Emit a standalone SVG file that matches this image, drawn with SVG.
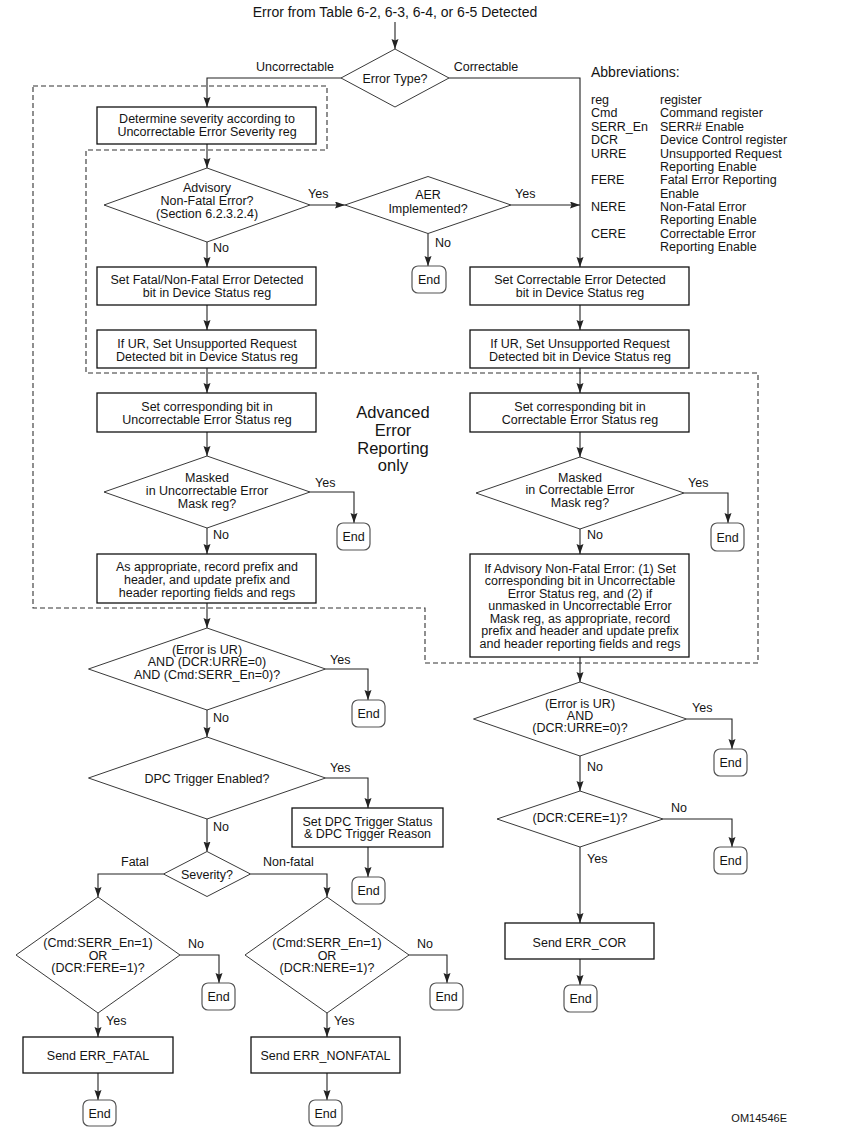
<svg xmlns="http://www.w3.org/2000/svg" width="856" height="1147" viewBox="0 0 856 1147">
<style>
text{font-family:"Liberation Sans",Arial,sans-serif;font-size:12.5px;fill:#141414}
.c{text-anchor:middle}
.box{fill:#fff;stroke:#111;stroke-width:1.3}
.dia{fill:#fff;stroke:#222;stroke-width:0.9}
.end{fill:#fff;stroke:#555;stroke-width:1.2}
.conn{fill:none;stroke:#222;stroke-width:1.1;marker-end:url(#arr)}
.line{fill:none;stroke:#222;stroke-width:1.1}
.dash{fill:none;stroke:#333;stroke-width:1.1;stroke-dasharray:5 3}
</style>
<defs>
<marker id="arr" markerUnits="userSpaceOnUse" markerWidth="10" markerHeight="8" refX="10" refY="3.5" orient="auto">
<path d="M0,0 L10,3.5 L0,7 L1.5,3.5 z" fill="#222"/>
</marker>
</defs>
<rect width="856" height="1147" fill="#fff"/>

<polygon id="aer-region" class="dash" points="33,86 327,86 327,150 86,150 86,373 758,373 758,663 425,663 425,608 33,608"/>

<g id="connectors">
<path class="conn" d="M395,22 V49"/>
<path class="conn" d="M341,78 H207 V107"/>
<path class="conn" d="M449,78 H580 V267"/>
<path class="conn" d="M207,144 V168"/>
<path class="conn" d="M310,205 H345"/>
<path class="conn" d="M511,205 H580"/>
<path class="conn" d="M428,233.5 V266"/>
<path class="conn" d="M207,242 V267"/>
<path class="conn" d="M207,305 V330"/>
<path class="conn" d="M207,368 V393"/>
<path class="conn" d="M580,305 V330"/>
<path class="conn" d="M580,368 V393"/>
<path class="conn" d="M580,432 V457"/>
<path class="conn" d="M207,432 V456"/>
<path class="conn" d="M310,492 H354 V523"/>
<path class="conn" d="M207,528 V554"/>
<path class="conn" d="M684,493 H728 V523"/>
<path class="conn" d="M580,529 V554"/>
<path class="conn" d="M207,603 V628"/>
<path class="conn" d="M325.5,669 H368 V700"/>
<path class="conn" d="M207,710 V737"/>
<path class="conn" d="M325.5,778 H368 V808"/>
<path class="conn" d="M368,847 V877"/>
<path class="conn" d="M207,819 V851.5"/>
<path class="conn" d="M163.5,874 H98 V897"/>
<path class="conn" d="M250.5,874 H327 V897"/>
<path class="conn" d="M180,955 H219 V983"/>
<path class="conn" d="M98,1013 V1037"/>
<path class="conn" d="M98,1073 V1100"/>
<path class="conn" d="M409,955 H447 V983"/>
<path class="conn" d="M327,1013 V1037"/>
<path class="conn" d="M327,1073 V1100"/>
<path class="conn" d="M580,657 V682"/>
<path class="conn" d="M686.5,719 H732 V749"/>
<path class="conn" d="M580,756 V791"/>
<path class="conn" d="M663,819 H732 V847"/>
<path class="conn" d="M580,847 V923"/>
<path class="conn" d="M580,959 V985"/>
</g>

<g id="labels">
<text class="c" x="295" y="71">Uncorrectable</text>
<text class="c" x="486" y="71">Correctable</text>
<text x="308" y="198">Yes</text>
<text x="515" y="198">Yes</text>
<text x="435" y="247">No</text>
<text x="213" y="252">No</text>
<text x="315" y="487">Yes</text>
<text x="213" y="539">No</text>
<text x="688" y="487">Yes</text>
<text x="587" y="539">No</text>
<text x="330" y="664">Yes</text>
<text x="213" y="722">No</text>
<text x="330" y="772">Yes</text>
<text x="213" y="831">No</text>
<text x="121" y="866">Fatal</text>
<text x="263" y="866">Non-fatal</text>
<text x="188" y="948">No</text>
<text x="106" y="1025">Yes</text>
<text x="417" y="948">No</text>
<text x="334" y="1025">Yes</text>
<text x="692" y="712">Yes</text>
<text x="587" y="771">No</text>
<text x="671" y="812">No</text>
<text x="587" y="863">Yes</text>
</g>

<g id="title"><text class="c" x="395" y="17" style="font-size:14px">Error from Table 6-2, 6-3, 6-4, or 6-5 Detected</text></g>

<g id="error-type">
<polygon class="dia" points="395,49 449,78 395,107 341,78"/>
<text class="c" x="395" y="82.5">Error Type?</text>
</g>

<g id="determine-severity">
<rect class="box" x="97" y="107" width="219" height="37"/>
<text class="c" x="207" y="122.5">Determine severity according to</text>
<text class="c" x="207" y="135.5">Uncorrectable Error Severity reg</text>
</g>

<g id="advisory">
<polygon class="dia" points="207,168 310,205 207,242 104,205"/>
<text class="c" x="207" y="191.5">Advisory</text>
<text class="c" x="207" y="204.5">Non-Fatal Error?</text>
<text class="c" x="207" y="217.5">(Section 6.2.3.2.4)</text>
</g>

<g id="aer-implemented">
<polygon class="dia" points="428,176.5 511,205 428,233.5 345,205"/>
<text class="c" x="428" y="198.5">AER</text>
<text class="c" x="428" y="212.5">Implemented?</text>
</g>

<g id="end-aer">
<rect class="end" x="412" y="266" width="34" height="27" rx="6"/>
<text class="c" x="429" y="284">End</text>
</g>

<g id="set-fatal-detected">
<rect class="box" x="97" y="267" width="219" height="38"/>
<text class="c" x="207" y="283.5">Set Fatal/Non-Fatal Error Detected</text>
<text class="c" x="207" y="297">bit in Device Status reg</text>
</g>

<g id="ur-left">
<rect class="box" x="97" y="330" width="219" height="38"/>
<text class="c" x="207" y="347.5">If UR, Set Unsupported Request</text>
<text class="c" x="207" y="361">Detected bit in Device Status reg</text>
</g>

<g id="set-cor-detected">
<rect class="box" x="470" y="267" width="219" height="38"/>
<text class="c" x="580" y="283.5">Set Correctable Error Detected</text>
<text class="c" x="580" y="297">bit in Device Status reg</text>
</g>

<g id="ur-right">
<rect class="box" x="470" y="330" width="219" height="38"/>
<text class="c" x="580" y="347.5">If UR, Set Unsupported Request</text>
<text class="c" x="580" y="361">Detected bit in Device Status reg</text>
</g>

<g id="uncor-status">
<rect class="box" x="97" y="393" width="219" height="39"/>
<text class="c" x="207" y="410.5">Set corresponding bit in</text>
<text class="c" x="207" y="423.5">Uncorrectable Error Status reg</text>
</g>

<g id="cor-status">
<rect class="box" x="470" y="393" width="219" height="39"/>
<text class="c" x="580" y="410.5">Set corresponding bit in</text>
<text class="c" x="580" y="423.5">Correctable Error Status reg</text>
</g>

<g id="aer-note">
<text class="c" x="393" y="418" style="font-size:16.5px">Advanced</text>
<text class="c" x="393" y="436" style="font-size:16.5px">Error</text>
<text class="c" x="393" y="454" style="font-size:16.5px">Reporting</text>
<text class="c" x="393" y="471" style="font-size:16.5px">only</text>
</g>

<g id="mask-uncor">
<polygon class="dia" points="207,456 310,492 207,528 104,492"/>
<text class="c" x="207" y="481.5">Masked</text>
<text class="c" x="207" y="494.5">in Uncorrectable Error</text>
<text class="c" x="207" y="507.5">Mask reg?</text>
</g>

<g id="end-mask-uncor">
<rect class="end" x="337" y="523" width="33" height="27" rx="6"/>
<text class="c" x="353.5" y="541">End</text>
</g>

<g id="mask-cor">
<polygon class="dia" points="580,457 684,493 580,529 476,493"/>
<text class="c" x="580" y="481.5">Masked</text>
<text class="c" x="580" y="494">in Correctable Error</text>
<text class="c" x="580" y="506.5">Mask reg?</text>
</g>

<g id="end-mask-cor">
<rect class="end" x="711" y="523" width="33" height="28" rx="6"/>
<text class="c" x="727.5" y="541.5">End</text>
</g>

<g id="record-header">
<rect class="box" x="97" y="554" width="219" height="49"/>
<text class="c" x="207" y="570.5">As appropriate, record prefix and</text>
<text class="c" x="207" y="583.5">header, and update prefix and</text>
<text class="c" x="207" y="596.5">header reporting fields and regs</text>
</g>

<g id="advisory-cor">
<rect class="box" x="470" y="554" width="219" height="103"/>
<text class="c" x="580" y="572.5">If Advisory Non-Fatal Error: (1) Set</text>
<text class="c" x="580" y="585">corresponding bit in Uncorrectable</text>
<text class="c" x="580" y="597.5">Error Status reg, and (2) if</text>
<text class="c" x="580" y="610">unmasked in Uncorrectable Error</text>
<text class="c" x="580" y="622.5">Mask reg, as appropriate, record</text>
<text class="c" x="580" y="635">prefix and header and update prefix</text>
<text class="c" x="580" y="647.5">and header reporting fields and regs</text>
</g>

<g id="ur-check-left">
<polygon class="dia" points="207,628 325.5,669 207,710 88.5,669"/>
<text class="c" x="207" y="653.5">(Error is UR)</text>
<text class="c" x="207" y="666">AND (DCR:URRE=0)</text>
<text class="c" x="207" y="678.5">AND (Cmd:SERR_En=0)?</text>
</g>

<g id="end-ur-left">
<rect class="end" x="352" y="700" width="33" height="27" rx="6"/>
<text class="c" x="368.5" y="718">End</text>
</g>

<g id="dpc-enabled">
<polygon class="dia" points="207,737 325.5,778 207,819 88.5,778"/>
<text class="c" x="207" y="782.5">DPC Trigger Enabled?</text>
</g>

<g id="dpc-set">
<rect class="box" x="292" y="808" width="151" height="39"/>
<text class="c" x="367.5" y="825.5">Set DPC Trigger Status</text>
<text class="c" x="367.5" y="838">&amp; DPC Trigger Reason</text>
</g>

<g id="end-dpc">
<rect class="end" x="352" y="877" width="33" height="27" rx="6"/>
<text class="c" x="368.5" y="895">End</text>
</g>

<g id="severity">
<polygon class="dia" points="207,851.5 250.5,874 207,896.5 163.5,874"/>
<text class="c" x="207" y="878.5">Severity?</text>
</g>

<g id="fatal-check">
<polygon class="dia" points="98,897 180,955 98,1013 16,955"/>
<text class="c" x="98" y="946.5">(Cmd:SERR_En=1)</text>
<text class="c" x="98" y="959.5">OR</text>
<text class="c" x="98" y="972">(DCR:FERE=1)?</text>
</g>

<g id="end-fatal-no">
<rect class="end" x="202" y="983" width="33" height="27" rx="6"/>
<text class="c" x="218.5" y="1001">End</text>
</g>

<g id="send-fatal">
<rect class="box" x="23" y="1037" width="150" height="36"/>
<text class="c" x="98" y="1059.5">Send ERR_FATAL</text>
</g>

<g id="end-fatal">
<rect class="end" x="83" y="1100" width="33" height="26" rx="6"/>
<text class="c" x="99.5" y="1117.5">End</text>
</g>

<g id="nonfatal-check">
<polygon class="dia" points="327,897 409,955 327,1013 245,955"/>
<text class="c" x="327" y="946.5">(Cmd:SERR_En=1)</text>
<text class="c" x="327" y="959.5">OR</text>
<text class="c" x="327" y="972">(DCR:NERE=1)?</text>
</g>

<g id="end-nf-no">
<rect class="end" x="430" y="983" width="33" height="27" rx="6"/>
<text class="c" x="446.5" y="1001">End</text>
</g>

<g id="send-nonfatal">
<rect class="box" x="251" y="1037" width="149" height="36"/>
<text class="c" x="325.5" y="1059.5">Send ERR_NONFATAL</text>
</g>

<g id="end-nf">
<rect class="end" x="309" y="1100" width="33" height="26" rx="6"/>
<text class="c" x="325.5" y="1117.5">End</text>
</g>

<g id="ur-check-right">
<polygon class="dia" points="580,682 686.5,719 580,756 473.5,719"/>
<text class="c" x="580" y="707.5">(Error is UR)</text>
<text class="c" x="580" y="719.5">AND</text>
<text class="c" x="580" y="732">(DCR:URRE=0)?</text>
</g>

<g id="end-ur-right">
<rect class="end" x="714" y="749" width="33" height="27" rx="6"/>
<text class="c" x="730.5" y="767">End</text>
</g>

<g id="cere-check">
<polygon class="dia" points="580,791 663,819 580,847 497,819"/>
<text class="c" x="580" y="822">(DCR:CERE=1)?</text>
</g>

<g id="end-cere">
<rect class="end" x="714" y="847" width="33" height="27" rx="6"/>
<text class="c" x="730.5" y="865">End</text>
</g>

<g id="send-cor">
<rect class="box" x="505" y="923" width="149" height="36"/>
<text class="c" x="579.5" y="947">Send ERR_COR</text>
</g>

<g id="end-cor">
<rect class="end" x="564" y="985" width="33" height="27" rx="6"/>
<text class="c" x="580.5" y="1003">End</text>
</g>

<g id="abbreviations">
<text x="591" y="77" style="font-size:14px">Abbreviations:</text>
<text x="591" y="104">reg</text><text x="660" y="104">register</text>
<text x="591" y="117.4">Cmd</text><text x="660" y="117.4">Command register</text>
<text x="591" y="130.8">SERR_En</text><text x="660" y="130.8">SERR# Enable</text>
<text x="591" y="144.1">DCR</text><text x="660" y="144.1">Device Control register</text>
<text x="591" y="157.5">URRE</text><text x="660" y="157.5">Unsupported Request</text>
<text x="660" y="170.9">Reporting Enable</text>
<text x="591" y="184.3">FERE</text><text x="660" y="184.3">Fatal Error Reporting</text>
<text x="660" y="197.7">Enable</text>
<text x="591" y="211">NERE</text><text x="660" y="211">Non-Fatal Error</text>
<text x="660" y="224.4">Reporting Enable</text>
<text x="591" y="237.8">CERE</text><text x="660" y="237.8">Correctable Error</text>
<text x="660" y="251.2">Reporting Enable</text>
</g>

<g id="figure-id"><text x="787" y="1122" style="font-size:11px;text-anchor:end">OM14546E</text></g>
</svg>
